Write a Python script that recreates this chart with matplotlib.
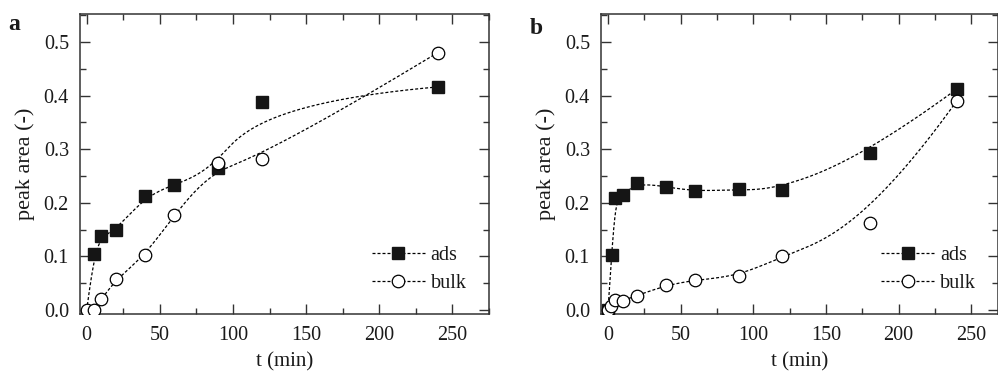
import numpy as np
import matplotlib
matplotlib.use("Agg")
import matplotlib.pyplot as plt
from matplotlib.ticker import MultipleLocator, FormatStrFormatter

plt.rcParams['font.family'] = ['Liberation Serif', 'DejaVu Serif']
plt.rcParams['mathtext.fontset'] = 'stix'

# ---- data: panel a ----
t_ads_a = [0, 5, 10, 20, 40, 60, 90, 120, 240]
ads_a = [0.0, 0.105, 0.138, 0.149, 0.212, 0.234, 0.265, 0.387, 0.416]
t_bulk_a = [0, 5, 10, 20, 40, 60, 90, 120, 240]
bulk_a = [0.0, 0.0, 0.020, 0.057, 0.102, 0.178, 0.275, 0.282, 0.480]

# ---- data: panel b ----
t_ads_b = [0, 2.5, 5, 10, 20, 40, 60, 90, 120, 180, 240]
ads_b = [0.0, 0.102, 0.208, 0.215, 0.237, 0.230, 0.221, 0.225, 0.223, 0.293, 0.412]
t_bulk_b = [0, 2, 5, 10, 20, 40, 60, 90, 120, 180, 240]
bulk_b = [0.0, 0.008, 0.018, 0.017, 0.027, 0.046, 0.056, 0.063, 0.100, 0.163, 0.390]

panel_labels = ['a', 'b']
series_labels = ['ads', 'bulk']


def bspline_curve(x, y, k=3, num=600):
    """Clamped uniform cubic B-spline using data points as control points."""
    P = np.column_stack([x, y]).astype(float)
    n = len(P)
    k = min(k, n - 1)
    inner = np.arange(1, n - k)
    t = np.concatenate([np.zeros(k + 1), inner, np.full(k + 1, n - k)]).astype(float)
    u = np.linspace(0, n - k, num)
    u[-1] -= 1e-9
    N = np.array([((t[i] <= u) & (u < t[i + 1])).astype(float) for i in range(len(t) - 1)])
    for d in range(1, k + 1):
        Nn = np.zeros((len(t) - 1 - d, len(u)))
        for i in range(len(t) - 1 - d):
            term = np.zeros_like(u)
            den1 = t[i + d] - t[i]
            den2 = t[i + d + 1] - t[i + 1]
            if den1 > 0:
                term = term + (u - t[i]) / den1 * N[i]
            if den2 > 0:
                term = term + (t[i + d + 1] - u) / den2 * N[i + 1]
            Nn[i] = term
        N = Nn
    C = N.T @ P
    return C[:, 0], C[:, 1]


fig = plt.figure(figsize=(9.98, 3.79), dpi=100)
W, H = 998, 379
axA = fig.add_axes([80 / W, 1 - 314 / H, (489 - 80) / W, 300 / H])
axB = fig.add_axes([601 / W, 1 - 314 / H, (997.5 - 601) / W, 300 / H])

dash = (0, (2.4, 1.6))
spine_col = '#333333'
text_col = '#1a1a1a'
fs_tick = 14.5
fs_lab = 15

panels = [
    (axA, t_ads_a, ads_a, t_bulk_a, bulk_a, (-4.6, 275), slice(1, None)),
    (axB, t_ads_b, ads_b, t_bulk_b, bulk_b, (-4.8, 268), slice(0, None)),
]

for idx, (ax, ta, ya, tb, yb, xl, mev) in enumerate(panels):
    cx, cy = bspline_curve(ta, ya)
    ax.plot(cx, cy, color='black', lw=0.9, ls=dash, zorder=2)
    cx, cy = bspline_curve(tb, yb)
    ax.plot(cx, cy, color='black', lw=0.9, ls=dash, zorder=2)
    ax.plot(ta, ya, ls='none', marker='s', ms=8.3, mfc='#151515', mec='#151515',
            markevery=mev, zorder=3)
    ax.plot(tb, yb, ls='none', marker='o', ms=9, mfc='white', mec='black', mew=0.9, zorder=4)

    # legend proxies
    h1, = ax.plot([], [], color='black', lw=0.9, ls=dash, marker='s', ms=8.3,
                  mfc='#151515', mec='#151515')
    h2, = ax.plot([], [], color='black', lw=0.9, ls=dash, marker='o', ms=9,
                  mfc='white', mec='black', mew=0.9)
    ax.legend([h1, h2], series_labels, loc='lower right', bbox_to_anchor=(0.945, 0.07),
              frameon=False, fontsize=fs_tick, handlelength=2.6, handletextpad=0.3,
              labelspacing=0.45, borderaxespad=0.0, borderpad=0.0, markerscale=1.0,
              labelcolor=text_col)

    ax.set_xlim(*xl)
    ax.set_ylim(-0.0075, 0.552)
    ax.xaxis.set_major_locator(MultipleLocator(50))
    ax.xaxis.set_minor_locator(MultipleLocator(25))
    ax.yaxis.set_major_locator(MultipleLocator(0.1))
    ax.yaxis.set_minor_locator(MultipleLocator(0.05))
    ax.yaxis.set_major_formatter(FormatStrFormatter('%.1f'))
    ax.tick_params(which='both', direction='in', top=True, right=True,
                   color=spine_col, labelsize=fs_tick, labelcolor=text_col)
    ax.tick_params(which='major', length=7, width=1.0)
    ax.tick_params(which='minor', length=4, width=1.0)
    ax.tick_params(axis='x', which='major', pad=9)
    ax.tick_params(axis='y', which='major', pad=8)
    for s in ax.spines.values():
        s.set_color(spine_col)
        s.set_linewidth(1.1)
    ax.set_xlabel('t (min)', fontsize=fs_lab, color=text_col, labelpad=5)
    ax.set_ylabel('peak area (-)', fontsize=16, color=text_col, labelpad=6)

fig.text(14 / W, 1 - 25 / H, panel_labels[0], fontsize=17, fontweight='bold',
         va='center', ha='center', color=text_col)
fig.text(536 / W, 1 - 29 / H, panel_labels[1], fontsize=17, fontweight='bold',
         va='center', ha='center', color=text_col)

fig.savefig('out.png', dpi=100)
